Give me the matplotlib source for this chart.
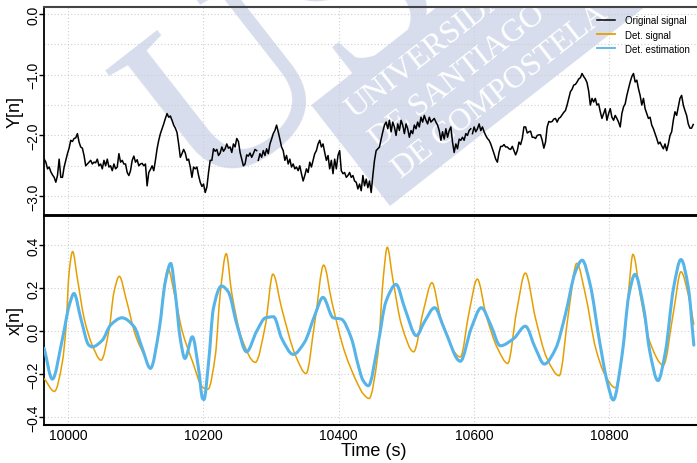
import numpy as np
import matplotlib
matplotlib.use("Agg")
import matplotlib.pyplot as plt
from matplotlib.path import Path
from matplotlib.patches import PathPatch, Polygon
from matplotlib.transforms import Affine2D

plt.rcParams['font.family'] = ['Liberation Sans', 'DejaVu Sans']

# ---------------- data ----------------
# original signal (top panel), three consecutive stretches sampled every 2.453 s
orig_step = 2.453
orig_start_a = 9965.0
orig_a = [-2.39, -2.44, -2.55, -2.52, -2.60, -2.65, -2.69, -2.77, -2.66, -2.39, -2.69, -2.69, -2.52, -2.41, -2.30,
          -2.21, -2.08, -2.10, -2.05, -2.04, -1.97, -2.11, -2.19, -2.21, -2.33, -2.50, -2.47, -2.44, -2.41, -2.47,
          -2.44, -2.45, -2.39, -2.50, -2.47, -2.55, -2.41, -2.50, -2.39, -2.52, -2.50, -2.58, -2.47, -2.55, -2.52,
          -2.30, -2.44, -2.41, -2.47, -2.47, -2.61, -2.66, -2.58, -2.41, -2.34, -2.44, -2.40, -2.50, -2.47, -2.46,
          -2.50, -2.47, -2.83, -2.61, -2.56, -2.50, -2.58, -2.41, -2.22, -2.08, -1.97, -1.89, -1.81, -1.72, -1.64,
          -1.70, -1.68, -1.75, -1.83, -1.88, -1.95, -2.14, -2.36, -2.30, -2.23, -2.29, -2.41, -2.39, -2.52, -2.69,
          -2.52, -2.55, -2.52, -2.66, -2.77, -2.84, -2.80, -2.94, -2.85, -2.61, -2.41, -2.41, -2.22, -2.26, -2.23,
          -2.33, -2.29, -2.19, -2.26, -2.22, -2.14, -2.21, -2.19, -2.28, -2.14, -2.19, -2.05, -2.10, -2.28, -2.39,
          -2.50, -2.47, -2.32, -2.34, -2.29, -2.36, -2.30, -2.23, -2.25]
orig_start_b = 10281.4
orig_b = [-2.41, -2.30, -2.36, -2.25, -2.33, -2.22, -2.30, -2.14, -2.06, -1.97, -1.92, -1.83, -1.94, -2.06, -2.19,
          -2.25, -2.41, -2.33, -2.47, -2.39, -2.52, -2.47, -2.55, -2.52, -2.58, -2.50, -2.63, -2.75, -2.66, -2.55,
          -2.61, -2.44, -2.52, -2.41, -2.30, -2.25, -2.14, -2.08, -2.19, -2.14, -2.28, -2.41, -2.33, -2.55, -2.41,
          -2.63, -2.39, -2.55, -2.33, -2.25, -2.58, -2.63, -2.61, -2.69, -2.66, -2.61, -2.69, -2.66, -2.75, -2.77,
          -2.88, -2.80, -2.91, -2.66, -2.83, -2.72, -2.86, -2.75, -2.94, -2.66, -2.41, -2.25, -2.22, -2.19, -2.06,
          -1.94, -1.83, -1.78, -1.89, -1.75, -1.94, -1.78, -1.86, -2.00, -1.81, -1.92, -1.75, -1.83, -1.97, -1.81,
          -1.89, -2.03, -1.92, -1.97, -1.83, -1.89, -1.78, -1.86, -1.70, -1.78, -1.67, -1.75, -1.81, -1.70, -1.78,
          -1.75, -1.72, -1.78, -1.83, -1.92, -2.08, -1.94, -2.06, -1.89, -2.03, -1.92, -1.86, -2.11, -2.28, -2.14,
          -2.22, -2.06, -2.08, -2.03, -2.08, -1.97, -2.00, -1.92, -1.89]
orig_start_c = 10597.9
orig_c = [-1.97, -1.86, -1.94, -1.89, -1.81, -1.92, -1.86, -1.94, -2.00, -2.05, -2.08, -2.14, -2.22, -2.30, -2.39,
          -2.44, -2.28, -2.18, -2.18, -2.15, -2.19, -2.19, -2.22, -2.23, -2.18, -2.25, -2.32, -2.25, -2.11, -2.15,
          -2.05, -1.86, -1.86, -1.96, -1.94, -1.93, -2.03, -2.03, -2.05, -2.00, -1.99, -1.99, -2.08, -2.21, -2.11,
          -1.86, -1.77, -1.78, -1.77, -1.73, -1.72, -1.78, -1.72, -1.70, -1.66, -1.62, -1.59, -1.50, -1.39, -1.28,
          -1.24, -1.17, -1.16, -1.12, -1.07, -1.05, -0.98, -1.03, -1.07, -1.13, -1.27, -1.50, -1.39, -1.45, -1.39,
          -1.50, -1.48, -1.61, -1.72, -1.64, -1.56, -1.75, -1.64, -1.56, -1.70, -1.75, -1.67, -1.72, -1.78, -1.86,
          -1.64, -1.53, -1.48, -1.34, -1.23, -1.12, -1.03, -0.98, -1.12, -1.09, -1.23, -1.34, -1.50, -1.39, -1.56,
          -1.64, -1.72, -1.70, -1.83, -1.89, -1.97, -2.05, -2.14, -2.11, -2.17, -2.22, -2.14, -2.25, -2.14, -2.00,
          -1.94, -1.75, -1.61, -1.67, -1.53, -1.39, -1.34, -1.50, -1.59, -1.67, -1.81, -1.88, -1.88, -1.82]

# deterministic signal (orange)
det_t = [9965, 9980, 9992, 9997, 10002, 10007, 10014, 10024, 10036, 10049, 10061, 10068, 10076, 10086, 10100,
         10115, 10122, 10135, 10142, 10148, 10157, 10169, 10184, 10199, 10207, 10218, 10225, 10234, 10242, 10257,
         10277, 10292, 10303, 10316, 10336, 10352, 10365, 10378, 10390, 10409, 10429, 10436, 10445, 10458, 10466,
         10472, 10480, 10493, 10511, 10525, 10538, 10551, 10580, 10593, 10605, 10618, 10635, 10650, 10663, 10676,
         10691, 10708, 10726, 10740, 10752, 10765, 10780, 10794, 10809, 10821, 10829, 10835, 10846, 10860, 10880,
         10895, 10906, 10917, 10925]
det_v = [-0.22, -0.28, -0.14, 0.01, 0.28, 0.37, 0.245, 0.06, -0.065, -0.135, 0.01, 0.18, 0.255, 0.15, -0.02,
         -0.127, -0.173, 0.01, 0.20, 0.29, 0.18, 0.0, -0.14, -0.26, -0.27, -0.11, 0.17, 0.36, 0.18, -0.035,
         -0.145, 0.03, 0.265, 0.105, -0.11, -0.197, 0.045, 0.307, 0.137, -0.096, -0.25, -0.29, -0.313, -0.11, 0.245,
         0.39, 0.245, 0.03, -0.096, 0.09, 0.225, 0.06, -0.12, 0.09, 0.242, 0.075, -0.08, -0.15, 0.09, 0.27,
         0.06, -0.127, -0.207, 0.09, 0.315, 0.167, -0.08, -0.205, -0.263, -0.065, 0.20, 0.357, 0.167, -0.05, -0.158,
         0.09, 0.276, 0.167, 0.03]

# deterministic estimation (blue)
est_t = [9965, 9977, 9992, 10002, 10009, 10019, 10031, 10036, 10051, 10063, 10080, 10098, 10110, 10122, 10135,
         10144, 10152, 10159, 10166, 10173, 10184, 10193, 10199, 10201, 10208, 10215, 10227, 10237, 10250, 10264,
         10279, 10292, 10304, 10316, 10333, 10350, 10365, 10377, 10392, 10404, 10419, 10429, 10436, 10444, 10458,
         10470, 10485, 10498, 10515, 10527, 10542, 10556, 10580, 10596, 10611, 10625, 10639, 10659, 10676, 10691,
         10704, 10721, 10735, 10750, 10760, 10772, 10785, 10797, 10806, 10819, 10829, 10838, 10851, 10860, 10872,
         10883, 10895, 10906, 10917, 10925]
est_v = [-0.08, -0.223, -0.034, 0.12, 0.175, 0.06, -0.065, -0.073, -0.042, 0.028, 0.062, 0.02, -0.08, -0.173, 0.01,
         0.23, 0.315, 0.167, -0.034, -0.127, -0.026, -0.173, -0.313, -0.318, -0.142, 0.105, 0.21, 0.183, 0.028, -0.096,
         0.0, 0.062, 0.067, -0.034, -0.108, -0.05, 0.075, 0.157, 0.062, 0.056, -0.034, -0.158, -0.228, -0.254, -0.065,
         0.137, 0.217, 0.105, -0.021, 0.044, 0.109, 0.013, -0.14, 0.013, 0.109, 0.028, -0.068, -0.034, 0.023, -0.08,
         -0.153, -0.08, 0.075, 0.276, 0.33, 0.214, -0.034, -0.235, -0.32, -0.11, 0.167, 0.264, 0.105, -0.096, -0.23,
         -0.096, 0.20, 0.333, 0.20, -0.065]

x_ticks = [10000, 10200, 10400, 10600, 10800]
top_ticks = [0.0, -1.0, -2.0, -3.0]
bot_ticks = [0.4, 0.2, 0.0, -0.2, -0.4]
watermark_lines = ["UNIVERSIDADE", "DE SANTIAGO", "DE COMPOSTELA"]

ORANGE = "#E69F00"
BLUE = "#56B4E9"
GRID = "#cfcfcf"
LAV = "#d7ddec"

W, H = 697, 464
fig = plt.figure(figsize=(W / 100, H / 100), dpi=100)
PIX = Affine2D().scale(1, -1).translate(0, H)   # pixel (top-left origin) -> display


def fx(px):
    return px / W


def fy(py):
    return 1 - py / H


def smooth_path(x, y):
    """Monotone cubic (Fritsch-Carlson) Bezier path through the given points."""
    x = np.asarray(x, float)
    y = np.asarray(y, float)
    h = np.diff(x)
    dl = np.diff(y) / h
    m = np.zeros_like(x)
    m[0], m[-1] = dl[0], dl[-1]
    for i in range(1, len(x) - 1):
        if dl[i - 1] * dl[i] <= 0:
            m[i] = 0.0
        else:
            w1 = 2 * h[i] + h[i - 1]
            w2 = h[i] + 2 * h[i - 1]
            m[i] = (w1 + w2) / (w1 / dl[i - 1] + w2 / dl[i])
    verts = [(x[0], y[0])]
    codes = [Path.MOVETO]
    for i in range(len(x) - 1):
        verts += [(x[i] + h[i] / 3, y[i] + m[i] * h[i] / 3),
                  (x[i + 1] - h[i] / 3, y[i + 1] - m[i + 1] * h[i] / 3),
                  (x[i + 1], y[i + 1])]
        codes += [Path.CURVE4] * 3
    return Path(verts, codes)


ax1 = fig.add_axes([fx(44), fy(216), fx(697 - 44) + 0.01, (216 - 8) / H])
ax2 = fig.add_axes([fx(44), fy(425.5), fx(697 - 44) + 0.01, (425.5 - 216) / H])

xlim = (9964.7, 10940)

# ---- watermark (top panel only) ----
ang = np.deg2rad(38)
d = np.array([np.cos(ang), -np.sin(ang)])
nvec = np.array([-np.sin(ang), -np.cos(ang)])
A = np.array([390.0, 207.0])
C = A + 128 * nvec
band = Polygon([A, A + 500 * d, C + 500 * d, C], closed=True, transform=PIX,
               facecolor=LAV, edgecolor="none", zorder=0.5)
ax1.add_patch(band)
band.set_clip_path(ax1.patch)
for k, line in enumerate(watermark_lines):
    p = A + (91 - 38 * k) * nvec + 26 * d
    t = ax1.text(p[0], p[1], line, transform=PIX, rotation=38, rotation_mode="anchor",
                 ha="left", va="baseline", color="white", fontsize=23,
                 family=["Liberation Serif", "DejaVu Serif"], zorder=0.6)
    t.set_clip_path(ax1.patch)
big = ax1.text(203, 201, "US", transform=PIX, rotation=38, rotation_mode="anchor",
               ha="left", va="baseline", color=LAV, fontsize=182,
               family=["Liberation Serif", "DejaVu Serif"], zorder=0.5)
big.set_clip_path(ax1.patch)

# ---- data ----
for name, arr, start in (("a", orig_a, orig_start_a), ("b", orig_b, orig_start_b), ("c", orig_c, orig_start_c)):
    t = start + orig_step * np.arange(len(arr))
    ax1.plot(t, arr, color="black", lw=1.1, zorder=3,
             label="Original signal" if name == "a" else None)
ax1.plot([], [], color=ORANGE, lw=1.3, label="Det. signal")
ax1.plot([], [], color=BLUE, lw=1.3, label="Det. estimation")

ax2.add_patch(PathPatch(smooth_path(det_t, det_v), fill=False, edgecolor=ORANGE, lw=1.1, zorder=3))
ax2.add_patch(PathPatch(smooth_path(est_t, est_v), fill=False, edgecolor=BLUE, lw=2.2, zorder=4,
                        capstyle="round", joinstyle="round"))

ax1.set_xlim(*xlim)
ax2.set_xlim(*xlim)
ax1.set_ylim(-3.31, 0.115)
ax2.set_ylim(-0.434, 0.54)

for ax in (ax1, ax2):
    ax.set_facecolor("none")
    ax.set_xticks(x_ticks)
    ax.grid(True, which="both", color=GRID, linestyle=(0, (1, 2)), lw=0.8)
    ax.set_axisbelow(True)
    ax.spines["right"].set_visible(False)
    ax.tick_params(axis="y", direction="out", length=3.5, width=1, labelsize=10, colors="black", pad=-1)
    ax.tick_params(axis="x", labelsize=10, colors="black")
    ax.spines["left"].set_linewidth(1.3)

ax1.set_yticks(top_ticks)
ax1.set_yticks([-0.5, -1.5, -2.5], minor=True)
ax1.tick_params(axis="y", which="minor", length=0)
ax1.set_yticklabels(["0.0", "\u22121.0", "\u22122.0", "\u22123.0"], rotation=90, va="center")
ax1.tick_params(axis="x", labelbottom=False, length=0)
ax1.spines["top"].set_color("#444444")
ax1.spines["top"].set_linewidth(1.5)
ax1.spines["bottom"].set_linewidth(1.8)

ax2.set_yticks(bot_ticks)
ax2.set_yticklabels(["0.4", "0.2", "0.0", "\u22120.2", "\u22120.4"], rotation=90, va="center")
ax2.set_xticklabels([str(v) for v in x_ticks])
ax2.spines["top"].set_linewidth(1.8)
ax2.spines["bottom"].set_linewidth(1.5)
ax2.tick_params(axis="x", length=0, pad=2.5)

ax1.set_ylabel("Y[n]", fontsize=13, labelpad=2)
ax2.set_ylabel("x[n]", fontsize=13, labelpad=2)
ax2.set_xlabel("Time (s)", fontsize=13, labelpad=0)

leg = ax1.legend(loc="upper left", bbox_to_anchor=(fx(597), fy(16.5)), bbox_transform=fig.transFigure,
                 frameon=False, fontsize=7.0, handlelength=1.9, handletextpad=1.0, labelspacing=0.42,
                 borderaxespad=0, borderpad=0)
leg.set_zorder(5)

fig.savefig("out.png", dpi=100)
